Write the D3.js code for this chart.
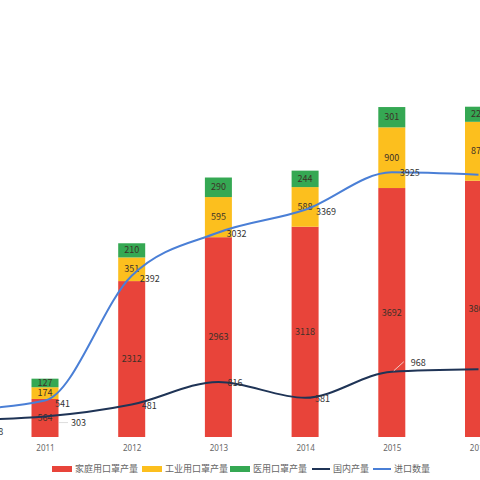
<!DOCTYPE html>
<html>
<head>
<meta charset="utf-8">
<script src="https://cdn.jsdelivr.net/npm/d3@7"></script>
<style>
  body { margin: 0; background: #fff; }
  text { font-family: "Noto Sans CJK SC", "Noto Sans", sans-serif; }
</style>
</head>
<body>
<div id="chart"></div>
<script>
// years on the line series (2010 only shows as the tail of the lines)
var lineYears = ["2010", "2011", "2012", "2013", "2014", "2015", "2016"];
var barYears = ["2011", "2012", "2013", "2014", "2015", "2016"];

// stacked bars
var household = [564, 2312, 2963, 3118, 3692, 3800];
var industrial = [174, 351, 595, 588, 900, 874];
var medical = [127, 210, 290, 244, 301, 224];

// lines
var domestic = [248, 303, 481, 816, 581, 968, 1005];
var imports = [400, 541, 2392, 3032, 3369, 3925, 3890];

var seriesNames = ["家庭用口罩产量", "工业用口罩产量", "医用口罩产量", "国内产量", "进口数量"];
var colors = ["#e8443a", "#fcbf1e", "#35a853", "#1f3456", "#4a7fd6"];

var width = 480, height = 480;

var svg = d3.select("#chart").append("svg")
    .attr("width", width)
    .attr("height", height);

var x = d3.scalePoint()
    .domain(lineYears)
    .range([-41.7, 478.5]);

var y = d3.scaleLinear()
    .domain([0, 6000])
    .range([437, 32.4]);

var barW = 27;

// stack the bar data
var rows = barYears.map(function(yr, i) {
  return { year: yr, household: household[i], industrial: industrial[i], medical: medical[i] };
});
var stack = d3.stack().keys(["household", "industrial", "medical"]);
var layers = stack(rows);

var layer = svg.selectAll(".layer")
    .data(layers)
  .enter().append("g")
    .attr("class", "layer")
    .style("fill", function(d, i) { return colors[i]; });

layer.selectAll("rect")
    .data(function(d) { return d; })
  .enter().append("rect")
    .attr("x", function(d) { return x(d.data.year) - barW / 2; })
    .attr("y", function(d) { return y(d[1]); })
    .attr("width", barW)
    .attr("height", function(d) { return y(d[0]) - y(d[1]); });

// bar segment labels
layer.selectAll("text")
    .data(function(d) { return d; })
  .enter().append("text")
    .attr("x", function(d) { return x(d.data.year); })
    .attr("y", function(d) { return (y(d[0]) + y(d[1])) / 2; })
    .attr("dy", ".35em")
    .style("text-anchor", "middle")
    .style("font-size", "9px")
    .style("fill", "#3d3128")
    .text(function(d) { return d[1] - d[0]; });

// x axis labels
var xAxis = d3.axisBottom(x).tickSize(0).tickPadding(8);
var gx = svg.append("g")
    .attr("transform", "translate(0,437)")
    .call(xAxis);
gx.select(".domain").remove();
gx.selectAll("text")
    .style("font-size", "8px")
    .style("fill", "#666")
    .style("font-family", "Noto Sans, sans-serif");
gx.selectAll(".tick").filter(function(d) { return d == "2010"; }).remove();

// lines
var line = d3.line()
    .x(function(d, i) { return x(lineYears[i]); })
    .y(function(d) { return y(d); })
    .curve(d3.curveMonotoneX);

svg.append("path")
    .datum(domestic)
    .attr("d", line)
    .style("fill", "none")
    .style("stroke", colors[3])
    .style("stroke-width", 2);

svg.append("path")
    .datum(imports)
    .attr("d", line)
    .style("fill", "none")
    .style("stroke", colors[4])
    .style("stroke-width", 2);

// line labels (offsets are label placement only)
var impOffsets = [[9, 2], [10, 3], [8, 3], [8, 1], [11, 2], [8, 1], [8, 1]];
var domOffsets = [[45, 12], [26, 6], [10, 1], [9, 1], [10, 1], [19, -9], [10, -6]];

svg.selectAll(".implabel")
    .data(imports)
  .enter().append("text")
    .attr("class", "implabel")
    .attr("x", function(d, i) { return x(lineYears[i]) + impOffsets[i][0]; })
    .attr("y", function(d, i) { return y(d) + impOffsets[i][1]; })
    .attr("dy", ".35em")
    .style("font-size", "9px")
    .style("fill", "#333")
    .text(function(d) { return d; });

// leader lines for moved labels
svg.append("line")
    .attr("x1", x("2011") + 14).attr("y1", y(domestic[1]) + 6)
    .attr("x2", x("2011") + 23).attr("y2", y(domestic[1]) + 6)
    .style("stroke", "#ddd").style("stroke-width", 1);
svg.append("line")
    .attr("x1", x("2015") + 2).attr("y1", y(domestic[5]) - 1)
    .attr("x2", x("2015") + 12).attr("y2", y(domestic[5]) - 10)
    .style("stroke", "#f3c9c3").style("stroke-width", 1);

svg.selectAll(".domlabel")
    .data(domestic)
  .enter().append("text")
    .attr("class", "domlabel")
    .attr("x", function(d, i) { return x(lineYears[i]) + domOffsets[i][0]; })
    .attr("y", function(d, i) { return y(d) + domOffsets[i][1]; })
    .attr("dy", ".35em")
    .style("text-anchor", function(d, i) { return i == 0 ? "end" : "start"; })
    .style("font-size", "9px")
    .style("fill", "#333")
    .text(function(d) { return d; });

// legend
var legendX = [52, 142, 230, 312, 373];
var legend = svg.selectAll(".legend")
    .data(seriesNames)
  .enter().append("g")
    .attr("class", "legend")
    .attr("transform", function(d, i) { return "translate(" + legendX[i] + ",469)"; });

legend.filter(function(d, i) { return i < 3; })
  .append("rect")
    .attr("x", 0)
    .attr("y", -3)
    .attr("width", 20)
    .attr("height", 6)
    .style("fill", function(d) { return colors[seriesNames.indexOf(d)]; });

legend.filter(function(d, i) { return i >= 3; })
  .append("line")
    .attr("x1", 0).attr("x2", 18)
    .attr("y1", 0).attr("y2", 0)
    .style("stroke", function(d) { return colors[seriesNames.indexOf(d)]; })
    .style("stroke-width", 2);

legend.append("text")
    .attr("x", function(d, i) { return i < 3 ? 23 : 21; })
    .attr("y", 0)
    .attr("dy", ".35em")
    .style("font-size", "9px")
    .style("fill", "#666")
    .text(function(d) { return d; });
</script>
</body>
</html>
